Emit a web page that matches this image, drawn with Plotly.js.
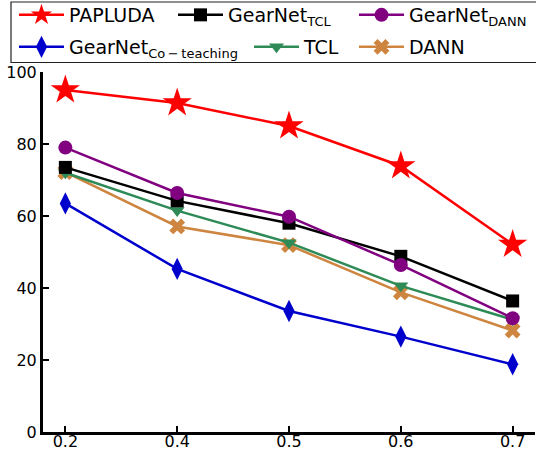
<!DOCTYPE html>
<html><head><meta charset="utf-8">
<script src="https://cdn.plot.ly/plotly-3.0.1.min.js"></script>
<style>body{margin:0;background:#fff}#chart{width:536px;height:450px}</style>
</head><body><div id="chart"></div>
<script>
const xLabels = ["0.2", "0.4", "0.5", "0.6", "0.7"];
const papluda = [95.0, 91.4, 85.0, 73.9, 52.1];
const gearnetTCL = [73.5, 64.2, 58.0, 48.8, 36.4];
const gearnetDANN = [79.0, 66.4, 59.8, 46.4, 31.6];
const gearnetCoteach = [63.5, 45.3, 33.6, 26.5, 18.8];
const tcl = [72.0, 61.5, 52.6, 40.6, 31.2];
const dann = [72.2, 57.1, 51.9, 38.8, 28.2];

const names = ["PAPLUDA",
  "GearNet<sub><span style='font-size:13px'>TCL</span></sub>",
  "GearNet<sub><span style='font-size:13px'>DANN</span></sub>",
  "GearNet<sub><span style='font-size:13px'>Co\u2009−\u2009teaching</span></sub>",
  "TCL", "DANN"];
const series = [papluda, gearnetTCL, gearnetDANN, gearnetCoteach, tcl, dann];
const colors = ["#ff0000", "#000000", "#800080", "#0000cd", "#2e8b57", "#cd853f"];
const symbols = ["star", "square", "circle", "diamond-tall", "triangle-down", "x"];
const sizes = [22, 13, 14, 16, 13, 14];
const legendIds = ["legend", "legend2", "legend3", "legend4", "legend5", "legend6"];

const traces = series.map((ys, i) => ({
  x: xLabels, y: ys, type: "scatter", mode: "lines+markers", name: names[i],
  line: {color: colors[i], width: 2.5},
  marker: {symbol: symbols[i], size: sizes[i], color: colors[i], line: {width: 0}},
  legend: legendIds[i], cliponaxis: false, showlegend: true
}));
const order = [3, 5, 4, 1, 2, 0];
const data = order.map(i => traces[i]);

const textX = [70, 229, 410, 70, 305, 410];
const legY = [15, 15, 15, 47, 47, 47];
const layout = {
  width: 536, height: 450, showlegend: true,
  margin: {l: 43, r: 1, t: 72, b: 18, pad: 0, autoexpand: false},
  paper_bgcolor: "#fff", plot_bgcolor: "#fff",
  font: {family: "DejaVu Sans", size: 16, color: "#000"},
  xaxis: {type: "category", range: [-0.2, 4.2], showgrid: false, zeroline: false, automargin: false,
    showline: true, linecolor: "#000", linewidth: 3, ticks: "inside", ticklen: 6, tickwidth: 2,
    tickcolor: "#000", tickfont: {size: 16}, ticklabelstandoff: -7},
  yaxis: {range: [0, 100], dtick: 20, showgrid: false, zeroline: false, automargin: false,
    showline: true, linecolor: "#000", linewidth: 3, ticks: "inside", ticklen: 6, tickwidth: 2,
    tickcolor: "#000", tickfont: {size: 16}},
  shapes: [{type: "rect", xref: "paper", yref: "paper",
    x0: (11 - 43) / 492, x1: 1.05, y0: (432 - 62.5) / 360, y1: (432 - 2) / 360,
    line: {color: "#222", width: 1.2}, fillcolor: "rgba(0,0,0,0)"}]
};
legendIds.forEach((id, i) => {
  layout[id] = {xref: "container", yref: "container", visible: true,
    x: (textX[i] - 56) / 536, y: 1 - legY[i] / 450, xanchor: "left", yanchor: "middle",
    bgcolor: "rgba(0,0,0,0)", borderwidth: 0, font: {family: "DejaVu Sans", size: 19, color: "#000"},
    itemwidth: 45, itemsizing: "trace"};
});
Plotly.newPlot("chart", data, layout, {displayModeBar: false, staticPlot: true});
</script></body></html>
